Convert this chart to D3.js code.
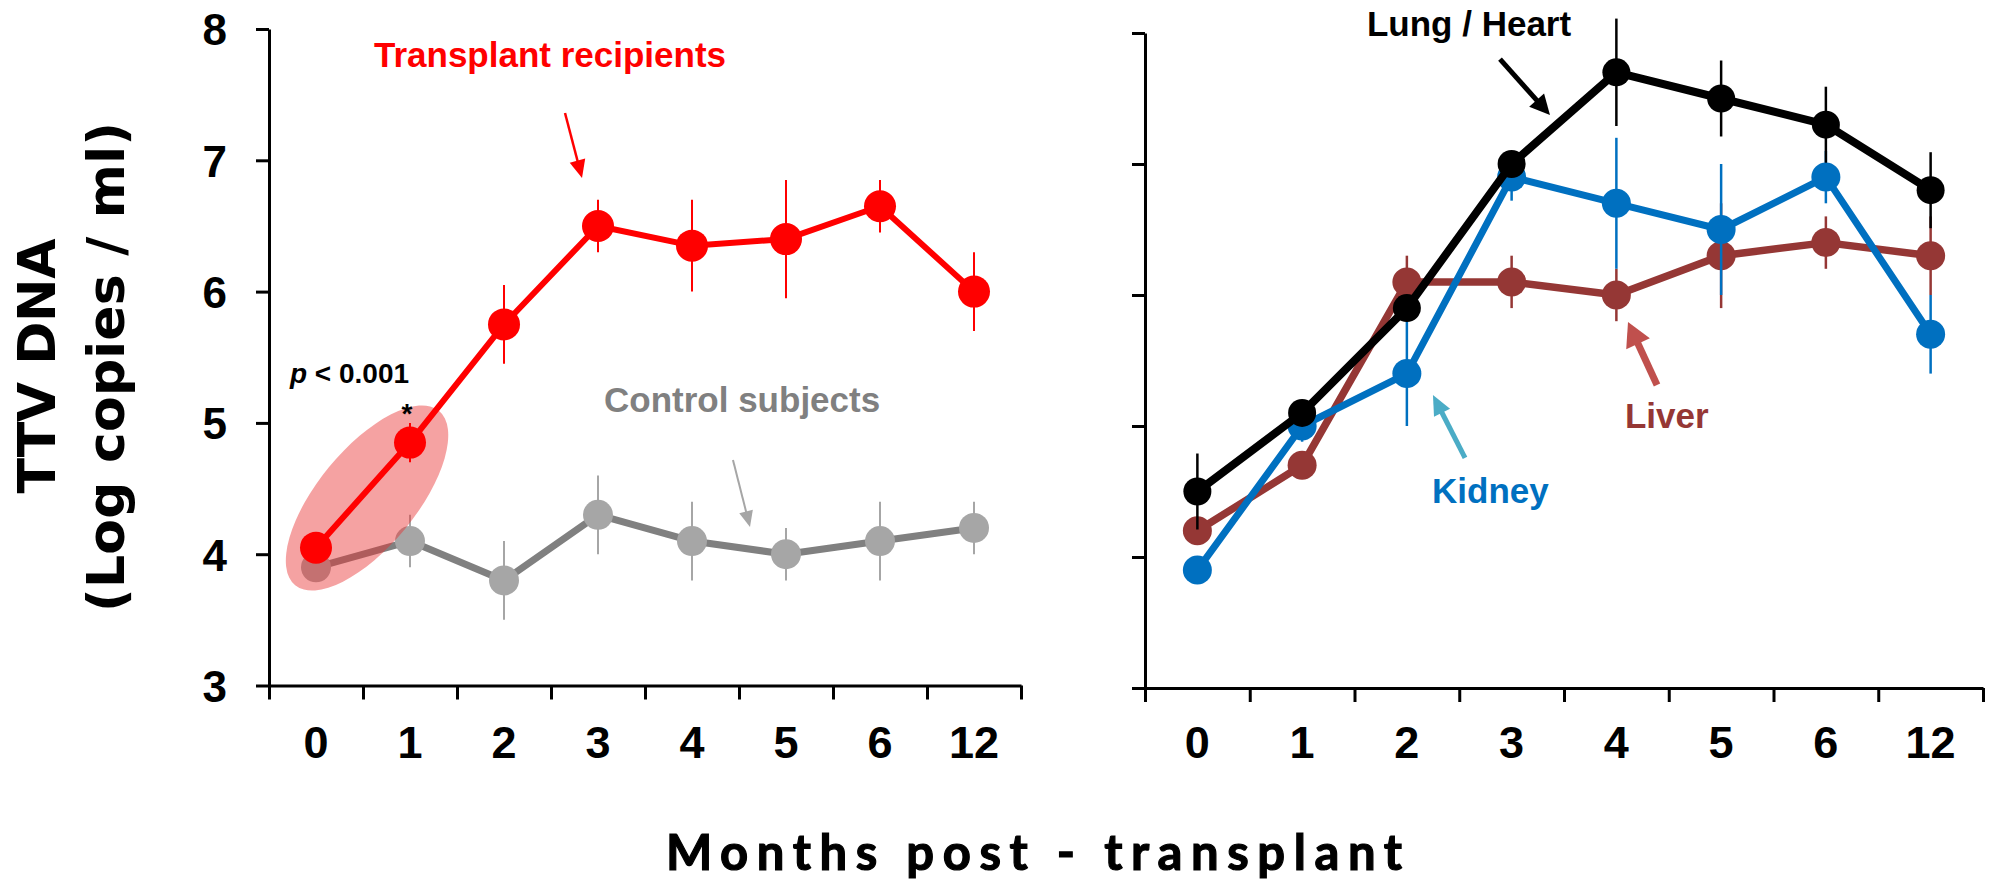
<!DOCTYPE html>
<html>
<head>
<meta charset="utf-8">
<script src="https://cdn.jsdelivr.net/npm/d3@7"></script>
<style>
  html, body { margin: 0; padding: 0; background: #ffffff; }
  svg { display: block; }
</style>
</head>
<body>
<div id="chart"></div>
<script>
// ---------------- data ----------------
const months = ["0", "1", "2", "3", "4", "5", "6", "12"];
const yTicks = [3, 4, 5, 6, 7, 8];

// left panel
const recipients    = [4.05, 4.85, 5.75, 6.50, 6.35, 6.40, 6.65, 6.00];
const recipientsErr = [0.00, 0.15, 0.30, 0.20, 0.35, 0.45, 0.20, 0.30];
const controls      = [3.90, 4.10, 3.80, 4.30, 4.10, 4.00, 4.10, 4.20];
const controlsErr   = [0.00, 0.20, 0.30, 0.30, 0.30, 0.20, 0.30, 0.20];

// right panel
const lungHeart     = [4.50, 5.10, 5.90, 7.00, 7.70, 7.50, 7.30, 6.80];
const lungHeartErr  = [0.29, 0.00, 0.00, 0.00, 0.41, 0.29, 0.29, 0.29];
const kidney        = [3.90, 5.00, 5.40, 6.90, 6.70, 6.50, 6.90, 5.70];
const kidneyErr     = [0.00, 0.12, 0.40, 0.18, 0.50, 0.50, 0.20, 0.30];
const liver         = [4.20, 4.70, 6.10, 6.10, 6.00, 6.30, 6.40, 6.30];
const liverErr      = [0.00, 0.00, 0.20, 0.20, 0.20, 0.40, 0.20, 0.30];

// ---------------- layout ----------------
const W = 1990, H = 883;
const FONT = "'Liberation Sans', Arial, Helvetica, sans-serif";

const svg = d3.select("#chart").append("svg")
  .attr("width", W).attr("height", H)
  .attr("viewBox", `0 0 ${W} ${H}`)
  .style("background", "#fff");

function makePanel(x0, x1, yTop, yBot, showLabels) {
  const x = d3.scaleBand().domain(months).range([x0, x1]).paddingInner(0).paddingOuter(0);
  const xb = d3.scaleLinear().domain([0, months.length]).range([x0, x1]);
  const y = d3.scaleLinear().domain([3, 8]).range([yBot, yTop]);
  const g = svg.append("g");

  const ya = g.append("g").attr("transform", `translate(${x0},0)`)
    .call(d3.axisLeft(y).tickValues(yTicks).tickSize(13).tickPadding(29).tickSizeOuter(0)
      .tickFormat(showLabels ? d3.format("d") : () => ""));
  ya.selectAll("path, line").attr("stroke", "#000").attr("stroke-width", 3);
  ya.selectAll("text").attr("font-family", FONT).attr("font-weight", "bold")
    .attr("font-size", 44).attr("fill", "#000").attr("dy", "0.36em");

  const xa = g.append("g").attr("transform", `translate(0,${yBot})`)
    .call(d3.axisBottom(xb).tickValues(d3.range(months.length + 1)).tickSize(14).tickSizeOuter(0).tickFormat(() => ""));
  xa.selectAll("path, line").attr("stroke", "#000").attr("stroke-width", 3);

  const xl = g.append("g").attr("transform", `translate(0,${yBot})`)
    .call(d3.axisBottom(x).tickSize(0).tickSizeOuter(0));
  xl.select(".domain").remove();
  xl.selectAll("text").attr("font-family", FONT).attr("font-weight", "bold")
    .attr("font-size", 45).attr("fill", "#000")
    .attr("y", 758 - yBot).attr("dy", 0);

  const pos = t => x(months[0]) + x.bandwidth() * (t + 0.5);
  return { g, x, y, pos };
}

function drawSeries(p, vals, errs, o) {
  const g = p.g.append("g");
  const pts = vals.map((v, i) => ({ m: months[i], v, e: errs[i] }));
  const cx = d => p.x(d.m) + p.x.bandwidth() / 2;
  g.selectAll("line.err").data(pts.filter(d => d.e > 0)).join("line")
    .attr("class", "err")
    .attr("x1", cx).attr("x2", cx)
    .attr("y1", d => p.y(d.v + d.e))
    .attr("y2", d => p.y(d.v - d.e))
    .attr("stroke", o.errColor).attr("stroke-width", o.errW);
  const line = d3.line().x(cx).y(d => p.y(d.v));
  g.append("path").datum(pts).attr("d", line)
    .attr("fill", "none").attr("stroke", o.lineColor)
    .attr("stroke-width", o.lineW).attr("stroke-linejoin", "round");
  g.selectAll("circle").data(pts).join("circle")
    .attr("cx", cx).attr("cy", d => p.y(d.v)).attr("r", o.r)
    .attr("fill", o.markerColor);
}

function label(p, text, t, v, color, size, extra) {
  const el = p.g.append("text")
    .attr("x", p.pos(t)).attr("y", p.y(v))
    .attr("font-family", FONT).attr("font-weight", "bold")
    .attr("font-size", size).attr("fill", color);
  if (extra) extra(el); else el.text(text);
  return el;
}

function arrow(p, t1, v1, t2, v2, color, w, headLen, headW) {
  const x1 = p.pos(t1), y1 = p.y(v1), x2 = p.pos(t2), y2 = p.y(v2);
  const dx = x2 - x1, dy = y2 - y1, L = Math.hypot(dx, dy);
  const ux = dx / L, uy = dy / L;
  const bx = x2 - ux * headLen, by = y2 - uy * headLen;
  p.g.append("line").attr("x1", x1).attr("y1", y1)
    .attr("x2", bx + ux * 2).attr("y2", by + uy * 2)
    .attr("stroke", color).attr("stroke-width", w);
  const nx = -uy, ny = ux;
  p.g.append("polygon")
    .attr("points", [[x2, y2], [bx + nx * headW / 2, by + ny * headW / 2], [bx - nx * headW / 2, by - ny * headW / 2]]
      .map(q => q.join(",")).join(" "))
    .attr("fill", color);
}

// ---------------- left panel ----------------
const L = makePanel(269, 1021, 29, 685.5, true);

drawSeries(L, controls, controlsErr, {
  lineColor: "#808080", lineW: 7, markerColor: "#a6a6a6", r: 15, errColor: "#a6a6a6", errW: 2
});

L.g.append("ellipse")
  .attr("transform", `translate(${L.pos(0.543)},${L.y(4.428)}) rotate(-50.5)`)
  .attr("rx", 113).attr("ry", 49)
  .attr("fill", "#e83030").attr("fill-opacity", 0.45);

drawSeries(L, recipients, recipientsErr, {
  lineColor: "#ff0000", lineW: 6, markerColor: "#ff0000", r: 16, errColor: "#ff0000", errW: 2
});

label(L, "Transplant recipients", 0.617, 7.71, "#ff0000", 35);
arrow(L, 2.649, 7.36, 2.830, 6.865, "#ff0000", 2.5, 18, 16);
label(L, "Control subjects", 3.064, 5.083, "#808080", 35);
arrow(L, 4.436, 4.717, 4.617, 4.207, "#a6a6a6", 2, 16, 14);
label(L, null, -0.277, 5.304, "#000", 28, el => {
  el.append("tspan").attr("font-style", "italic").text("p");
  el.append("tspan").text(" < 0.001");
});
label(L, "*", 0.968, 5.0, "#000", 28).attr("text-anchor", "middle");

// ---------------- right panel ----------------
const R = makePanel(1145, 1983, 33, 688, false);

drawSeries(R, liver, liverErr, {
  lineColor: "#953735", lineW: 7.5, markerColor: "#953735", r: 14.5, errColor: "#953735", errW: 2.5
});
drawSeries(R, kidney, kidneyErr, {
  lineColor: "#0070c0", lineW: 7, markerColor: "#0070c0", r: 14.5, errColor: "#0070c0", errW: 2.5
});
drawSeries(R, lungHeart, lungHeartErr, {
  lineColor: "#000000", lineW: 8, markerColor: "#000000", r: 14, errColor: "#000000", errW: 2.5
});

label(R, "Lung / Heart", 1.619, 7.977, "#000", 35);
arrow(R, 2.889, 7.80, 3.366, 7.374, "#000", 5, 20, 20);
label(R, "Kidney", 2.240, 4.412, "#0070c0", 35);
arrow(R, 2.555, 4.756, 2.249, 5.237, "#4bacc6", 5, 20, 18);
label(R, "Liver", 4.082, 4.985, "#953735", 35);
arrow(R, 4.388, 5.313, 4.111, 5.794, "#c0504d", 7, 24, 26);

// ---------------- axis titles ----------------
const TITLE_FONT = "'DejaVu Sans', Verdana, sans-serif";
svg.append("text")
  .attr("transform", "translate(55,366) rotate(-90)")
  .attr("text-anchor", "middle")
  .attr("font-family", TITLE_FONT).attr("font-weight", "bold").attr("font-size", 52)
  .attr("textLength", 255).attr("lengthAdjust", "spacing")
  .text("TTV DNA");
svg.append("text")
  .attr("transform", "translate(124,367) rotate(-90)")
  .attr("text-anchor", "middle")
  .attr("font-family", TITLE_FONT).attr("font-weight", "bold").attr("font-size", 52)
  .attr("textLength", 490).attr("lengthAdjust", "spacing")
  .text("(Log copies / ml)");

svg.append("text")
  .attr("x", 666).attr("y", 870)
  .attr("font-family", "Lato, 'Open Sans', sans-serif").attr("font-weight", "bold").attr("font-size", 49)
  .attr("stroke", "#000").attr("stroke-width", 1.2)
  .attr("textLength", 736).attr("lengthAdjust", "spacing")
  .text("Months post - transplant");
</script>
</body>
</html>
